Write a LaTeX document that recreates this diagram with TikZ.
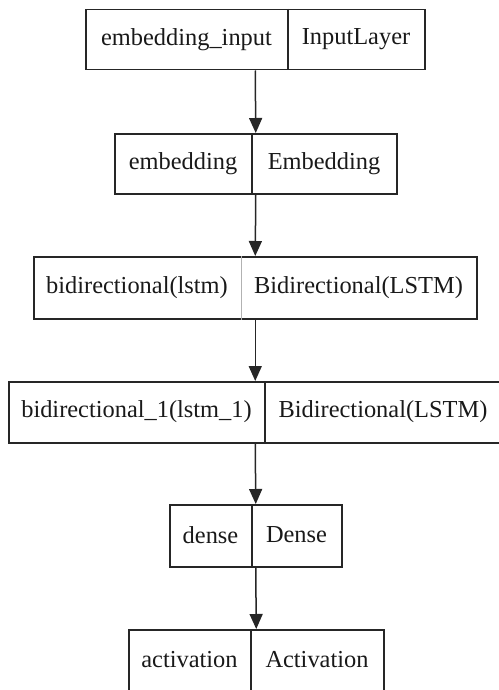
\documentclass[tikz,border=0pt]{standalone}
\usepackage{fontspec}
\setmainfont{Liberation Serif}
\usetikzlibrary{arrows.meta}
\tikzset{
  recbox/.style={draw=black!85, line width=1.5pt, inner sep=0pt, anchor=north west},
  celltext/.style={inner sep=0pt, font=\fontsize{24.4}{28}\selectfont, text=black!90},
  divider/.style={draw=black!85, line width=1.5pt},
  lightdivider/.style={draw=black!30, line width=0.8pt},
  flow/.style={draw=black!85, line width=1.5pt, -{Triangle[length=15pt,width=13pt]}, shorten >=0pt}
}
\begin{document}
\begin{tikzpicture}[x=1pt,y=-1pt]
\useasboundingbox (0,0) rectangle (498,690);
% box 1
\node[recbox, minimum width=339pt, minimum height=60pt] (b1) at (85,9) {};
\node[celltext] (b1l) at (186.5,39.5) {embedding\_input};
\node[celltext] (b1r) at (356,39.5) {InputLayer};
\draw[divider] (b1.north west) ++(203,0) coordinate (d1t) -- (d1t |- b1.south);
% box 2
\node[recbox, minimum width=282pt, minimum height=60pt] (b2) at (114,133) {};
\node[celltext] (b2l) at (183,163.5) {embedding};
\node[celltext] (b2r) at (324,163.5) {Embedding};
\draw[divider] (b2.north west) ++(138,0) coordinate (d2t) -- (d2t |- b2.south);
% box 3
\node[recbox, minimum width=443pt, minimum height=62pt] (b3) at (33,256) {};
\node[celltext] (b3l) at (137,287.5) {bidirectional(lstm)};
\node[celltext] (b3r) at (358.5,287.5) {Bidirectional(LSTM)};
\draw[lightdivider] (b3.north west) ++(208,0) coordinate (d3t) -- (d3t |- b3.south);
% box 4
\node[recbox, minimum width=493pt, minimum height=61pt] (b4) at (8,381) {};
\node[celltext] (b4l) at (136.5,412) {bidirectional\_1(lstm\_1)};
\node[celltext] (b4r) at (383,412) {Bidirectional(LSTM)};
\draw[divider] (b4.north west) ++(257,0) coordinate (d4t) -- (d4t |- b4.south);
% box 5
\node[recbox, minimum width=172pt, minimum height=62pt] (b5) at (169,504) {};
\node[celltext] (b5l) at (210.5,535) {dense};
\node[celltext] (b5r) at (296.5,535) {Dense};
\draw[divider] (b5.north west) ++(83,0) coordinate (d5t) -- (d5t |- b5.south);
% box 6
\node[recbox, minimum width=255pt, minimum height=61pt] (b6) at (128,629) {};
\node[celltext] (b6l) at (189.5,660) {activation};
\node[celltext] (b6r) at (317,660) {Activation};
\draw[divider] (b6.north west) ++(123,0) coordinate (d6t) -- (d6t |- b6.south);
% arrows
\draw[flow] (b1.south) -- (b2.north);
\draw[flow] (b2.south) -- (b3.north);
\draw[flow] (b3.south) -- (b4.north);
\draw[flow] (b4.south) -- (b5.north);
\draw[flow] (b5.south) -- (b6.north);
\end{tikzpicture}
\end{document}
